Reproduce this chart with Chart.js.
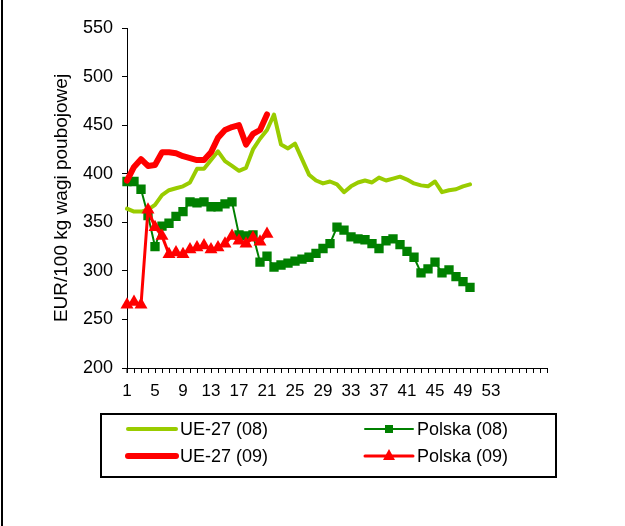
<!DOCTYPE html>
<html>
<head>
<meta charset="utf-8">
<script src="https://cdn.jsdelivr.net/npm/chart.js@4.4.1/dist/chart.umd.min.js"></script>
<style>
  html, body { margin: 0; padding: 0; background: #fff; }
</style>
</head>
<body>
<canvas id="mychart" width="625" height="526"></canvas>
<script>
// tygodnie (kategorie osi X), puste po 53
const weeks = ['1','2','3','4','5','6','7','8','9','10','11','12','13','14','15','16','17','18','19','20',
  '21','22','23','24','25','26','27','28','29','30','31','32','33','34','35','36','37','38','39','40',
  '41','42','43','44','45','46','47','48','49','50','51','52','53','','','','','','','',''];

const ue27_08 = [364,361,361,363,368,378,383,385,387,391,405,405,414,423,413,408,403,406,425,436,
  445,461,430,426,431,415,399,393,390,392,389,381,387,391,393,391,396,393,395,397,
  394,390,388,387,392,381,383,384,387,389];
const polska_08 = [392,392,384,357,325,346,349,356,361,371,370,371,366,366,369,371,337,336,337,309,
  315,304,306,308,310,312,314,318,323,328,345,342,335,333,332,328,323,331,333,327,
  320,314,298,302,309,298,301,294,289,283];
const ue27_09 = [393,407,415,408,409,422,422,421,418,416,414,414,422,437,445,448,450,430,441,445,461];
const polska_09 = [265,268,265,363,345,336,317,319,317,322,324,326,322,324,328,336,331,328,334,330,338];

const yTicks = [200, 550, 50]; // min, max, krok

const FONT = 'Liberation Sans';

// legenda w ramce (2 kolumny) + lewa krawedz ramki
const legendBox = {
  id: 'legendBox',
  afterDraw(chart) {
    const ctx = chart.ctx;
    ctx.save();
    ctx.fillStyle = '#000';
    ctx.fillRect(1, 0, 2, 526);

    // os Y wystaje troche pod os X
    const ya = chart.scales.y;
    ctx.fillRect(Math.round(ya.right) - 0.5, chart.chartArea.bottom, 1, 5);

    ctx.lineWidth = 2;
    ctx.strokeStyle = '#000';
    ctx.strokeRect(101, 414, 455, 63);

    const cols = [128, 365];
    const rows = [429, 456];
    chart.data.datasets.forEach((ds, i) => {
      const x = cols[i % 2];
      const y = rows[Math.floor(i / 2)];
      ctx.strokeStyle = ds.borderColor;
      ctx.lineWidth = ds.legendWidth;
      ctx.lineCap = 'round';
      ctx.beginPath();
      ctx.moveTo(x, y);
      ctx.lineTo(x + 48, y);
      ctx.stroke();
      ctx.fillStyle = ds.borderColor;
      if (ds.pointStyle === 'rect') {
        ctx.fillRect(x + 24 - 4, y - 4, 8, 8);
      } else if (ds.pointStyle === 'triangle') {
        ctx.beginPath();
        ctx.moveTo(x + 24, y - 7);
        ctx.lineTo(x + 30, y + 4);
        ctx.lineTo(x + 18, y + 4);
        ctx.closePath();
        ctx.fill();
      }
      ctx.fillStyle = '#000';
      ctx.font = '18px "' + FONT + '"';
      ctx.textBaseline = 'middle';
      ctx.fillText(ds.label, x + 52, y + 1);
    });
    ctx.restore();
  }
};

const canvas = document.getElementById('mychart');

new Chart(canvas, {
  type: 'line',
  data: {
    labels: weeks,
    datasets: [
      {
        label: 'UE-27 (08)',
        data: ue27_08,
        borderColor: '#99CC00',
        borderWidth: 4,
        legendWidth: 4,
        pointRadius: 0,
        order: 4
      },
      {
        label: 'Polska (08)',
        data: polska_08,
        borderColor: '#008000',
        backgroundColor: '#008000',
        borderWidth: 2,
        legendWidth: 2,
        pointStyle: 'rect',
        pointRadius: 6.6,
        pointBorderWidth: 0,
        order: 3
      },
      {
        label: 'UE-27 (09)',
        data: ue27_09,
        borderColor: '#FF0000',
        borderWidth: 6,
        legendWidth: 6,
        pointRadius: 0,
        order: 2
      },
      {
        label: 'Polska (09)',
        data: polska_09,
        borderColor: '#FF0000',
        backgroundColor: '#FF0000',
        borderWidth: 3,
        legendWidth: 3,
        pointStyle: 'triangle',
        pointRadius: 7.5,
        pointBorderWidth: 0,
        order: 1
      }
    ]
  },
  options: {
    responsive: false,
    animation: false,
    layout: { padding: { top: 28, right: 78, bottom: 118, left: 0 } },
    elements: { line: { tension: 0, borderJoinStyle: 'round', borderCapStyle: 'round' } },
    plugins: {
      legend: { display: false },
      tooltip: { enabled: false }
    },
    scales: {
      x: {
        offset: false,
        grid: { drawOnChartArea: false, drawTicks: true, tickLength: 5, color: '#000' },
        border: { display: true, color: '#000', width: 1 },
        ticks: {
          autoSkip: false,
          maxRotation: 0,
          minRotation: 0,
          padding: 8,
          color: '#000',
          font: { family: FONT, size: 17 },
          callback: function (v, i) { return i % 4 === 0 ? this.getLabelForValue(v) : ''; }
        },
        afterFit: (s) => { s.height = 40; }
      },
      y: {
        min: yTicks[0],
        max: yTicks[1],
        grid: { drawOnChartArea: false, drawTicks: true, tickLength: 5, color: '#000' },
        border: { display: true, color: '#000', width: 1 },
        ticks: { stepSize: yTicks[2], padding: 9, color: '#000', font: { family: FONT, size: 18 } },
        title: {
          display: true,
          text: 'EUR/100 kg wagi poubojowej',
          color: '#000',
          font: { family: FONT, size: 19 },
          padding: { top: 50, bottom: 0 }
        },
        afterFit: (s) => { s.width = 127; }
      }
    }
  },
  plugins: [legendBox]
});
</script>
</body>
</html>
